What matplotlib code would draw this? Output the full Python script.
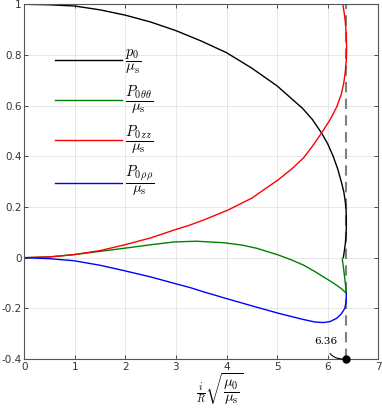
import matplotlib
matplotlib.use("Agg")
import matplotlib.pyplot as plt

plt.rcParams['mathtext.fontset'] = 'cm'
plt.rcParams['axes.unicode_minus'] = False

# p0 / mu_s
p0_x = [0, 0.5, 1.0, 1.5, 2.0, 2.5, 3.0, 3.5, 4.0, 4.5, 5.0, 5.5, 5.7, 5.88, 6.0, 6.11, 6.2, 6.27, 6.32, 6.35, 6.365, 6.37, 6.37, 6.365, 6.35, 6.33, 6.31]
p0_y = [1.0, 0.998, 0.993, 0.978, 0.957, 0.93, 0.896, 0.855, 0.809, 0.748, 0.678, 0.59, 0.545, 0.492, 0.45, 0.40, 0.35, 0.30, 0.26, 0.22, 0.19, 0.15, 0.12, 0.09, 0.055, 0.025, 0.0]

# P0_thetatheta / mu_s
pth_x = [0, 0.5, 0.98, 1.5, 1.97, 2.5, 2.96, 3.4, 3.94, 4.3, 4.6, 5.02, 5.3, 5.52, 5.75, 5.91, 6.05, 6.15, 6.27, 6.37, 6.35, 6.32, 6.29]
pth_y = [0, 0.003, 0.012, 0.025, 0.037, 0.051, 0.062, 0.065, 0.059, 0.05, 0.037, 0.011, -0.01, -0.029, -0.055, -0.075, -0.092, -0.105, -0.122, -0.14, -0.1, -0.05, -0.005]

# P0_zz / mu_s
pzz_x = [0, 0.5, 0.98, 1.5, 1.97, 2.5, 2.96, 3.28, 3.55, 4.03, 4.5, 5.02, 5.3, 5.52, 5.7, 5.88, 6.05, 6.18, 6.27, 6.32, 6.35, 6.37, 6.375, 6.37, 6.36, 6.345, 6.325, 6.30]
pzz_y = [0, 0.003, 0.012, 0.028, 0.050, 0.078, 0.109, 0.129, 0.149, 0.188, 0.235, 0.307, 0.352, 0.393, 0.44, 0.492, 0.545, 0.595, 0.645, 0.69, 0.735, 0.78, 0.83, 0.87, 0.905, 0.94, 0.97, 1.0]

# P0_rhorho / mu_s
prr_x = [0, 0.5, 0.98, 1.5, 1.97, 2.5, 2.96, 3.28, 3.55, 3.94, 4.5, 5.02, 5.5, 5.75, 5.91, 6.05, 6.18, 6.27, 6.34, 6.365, 6.37]
prr_y = [0, -0.004, -0.012, -0.03, -0.051, -0.076, -0.101, -0.118, -0.135, -0.158, -0.19, -0.219, -0.243, -0.254, -0.256, -0.252, -0.239, -0.222, -0.20, -0.175, -0.14]

x_limit = 6.36
xticks = [0, 1, 2, 3, 4, 5, 6, 7]
yticks = [-0.4, -0.2, 0, 0.2, 0.4, 0.6, 0.8, 1]
ytick_labels = ['-0.4', '-0.2', '0', '0.2', '0.4', '0.6', '0.8', '1']

fig = plt.figure(figsize=(3.82, 4.08), dpi=100)
ax = fig.add_axes([0.0636, 0.120, 0.9264, 0.8695])

ax.plot(p0_x, p0_y, color='black', lw=1.0, label=r'$\dfrac{p_0}{\mu_\mathrm{s}}$')
ax.plot(pth_x, pth_y, color='#008000', lw=1.0, label=r'$\dfrac{P_{0\,\theta\theta}}{\mu_\mathrm{s}}$')
ax.plot(pzz_x, pzz_y, color='#ff0000', lw=1.0, label=r'$\dfrac{P_{0\,zz}}{\mu_\mathrm{s}}$')
ax.plot(prr_x, prr_y, color='#0000ff', lw=1.0, label=r'$\dfrac{P_{0\,\rho\rho}}{\mu_\mathrm{s}}$')

ax.axvline(x_limit, color='#808080', lw=1.5, ls=(0, (5, 3)), zorder=1)
ax.plot([x_limit], [-0.4], 'o', color='black', ms=5, clip_on=False, zorder=5)
ax.annotate('6.36', xy=(x_limit, -0.4), xytext=(5.97, -0.33),
            fontsize=7.5, ha='center', va='center', family='serif',
            arrowprops=dict(arrowstyle='-', color='black', lw=0.8,
                            shrinkA=4, shrinkB=2,
                            connectionstyle='arc3,rad=0.5'))

ax.set_xlim(0, 7)
ax.set_ylim(-0.4, 1)
ax.set_xticks(xticks)
ax.set_yticks(yticks)
ax.set_yticklabels(ytick_labels)
ax.tick_params(direction='in', top=True, right=True, labelsize=7.5,
               length=3, width=0.6, colors='#333333', pad=2)
for s in ax.spines.values():
    s.set_color('#555555')
    s.set_linewidth(0.8)
ax.grid(True, color='#e3e3e3', lw=0.6)
ax.set_axisbelow(True)

ax.set_xlabel(r'$\frac{i}{R}\sqrt{\dfrac{\mu_0}{\mu_\mathrm{s}}}$', fontsize=10.5)
ax.xaxis.set_label_coords(0.553, -0.033, transform=ax.transAxes)
ax.xaxis.label.set_va('top')

leg = ax.legend(loc='upper left', bbox_to_anchor=(0.05, 0.915), frameon=False,
                fontsize=10.5, handlelength=4.6, labelspacing=0.55, handletextpad=0.2)

fig.savefig('out.png', dpi=100)
